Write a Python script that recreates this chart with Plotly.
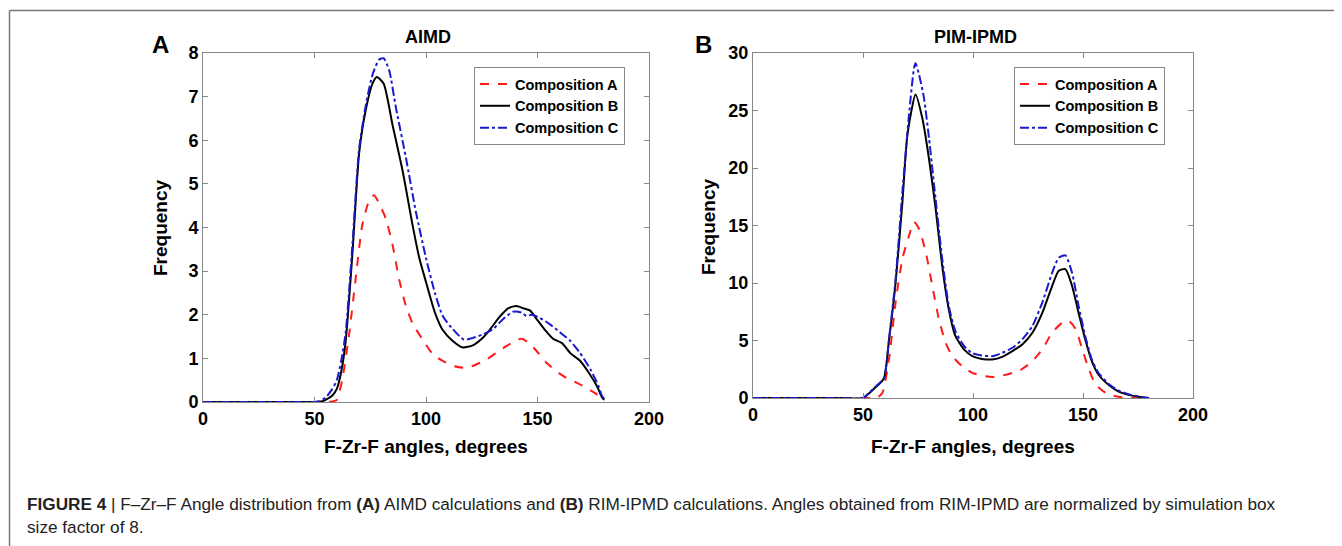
import plotly.graph_objects as go

# page body adds an 8px margin, so the figure is sized to fit the remaining window
OFF = 8
W, H = 1342 - OFF, 546 - OFF

# ---------------- Data ----------------
# Panel A: AIMD
aimd_a_x = [0, 20, 40, 55, 58, 60, 62.4, 65.4, 68.4, 71.4, 74.4, 76.7, 79, 82, 85, 88, 91, 94, 98.5,
            103, 107.5, 112.8, 118, 122.5, 127, 131.6, 136, 140.6, 142.9, 146, 149.6, 154,
            158.6, 163, 167.7, 172, 176.7, 179, 180]
aimd_a_y = [0, 0, 0, 0, 0.01, 0.05, 0.5, 1.5, 2.8, 4.05, 4.6, 4.74, 4.55, 4.2, 3.6, 2.8, 2.2, 1.8, 1.43,
            1.1, 0.94, 0.82, 0.78, 0.86, 0.97, 1.13, 1.28, 1.42, 1.45, 1.36, 1.17, 0.9,
            0.7, 0.55, 0.44, 0.32, 0.17, 0.05, 0.02]

aimd_b_x = [0, 20, 40, 50, 53, 55, 58, 60, 62, 64, 67, 70, 73, 76, 78, 81, 85, 89.5, 94, 97, 100,
            104, 107.5, 112, 116.5, 121, 125, 128.5, 133, 137, 140.6, 143.6, 146.6, 149.6,
            153.4, 157, 161, 164.7, 169, 173, 176.7, 179, 180]
aimd_b_y = [0, 0, 0, 0, 0.01, 0.05, 0.15, 0.3, 0.7, 1.4, 3.4, 5.7, 6.7, 7.3, 7.45, 7.3, 6.35, 5.3, 4.05, 3.3, 2.75,
            2.05, 1.65, 1.4, 1.25, 1.3, 1.45, 1.65, 1.95, 2.15, 2.2, 2.15, 2.1, 1.9,
            1.65, 1.45, 1.35, 1.12, 0.95, 0.67, 0.36, 0.1, 0.05]

aimd_c_x = [0, 20, 40, 50, 52, 55, 58, 60, 62, 64, 67, 70, 73, 76, 79, 81, 83.5, 86.5, 91, 95.5, 100,
            104, 107.5, 112, 117, 121, 125.5, 130, 134.6, 139, 142.9, 145, 147.4, 151,
            155.6, 160, 164.7, 169, 173.7, 177.4, 179, 180]
aimd_c_y = [0, 0, 0, 0, 0.02, 0.1, 0.3, 0.5, 0.95, 1.6, 3.6, 5.8, 6.8, 7.5, 7.85, 7.88, 7.6, 6.75, 5.6, 4.35, 3.3,
            2.5, 1.97, 1.67, 1.43, 1.47, 1.55, 1.67, 1.9, 2.07, 2.05, 1.97, 2.0, 1.93,
            1.78, 1.6, 1.4, 1.13, 0.75, 0.36, 0.13, 0.08]

# Panel B: PIM-IPMD
pim_a_x = [0, 20, 40, 55, 56.5, 58.8, 61.8, 64.8, 67.9, 70.9, 73.2, 75.5, 78.5, 81.5, 84.5, 87.6, 90.6,
           95, 99.7, 104, 108.8, 113.3, 117.9, 122.4, 127, 131.5, 136, 140.6, 143.6, 146.7,
           149.7, 152.7, 155.8, 160.3, 164.8, 169.4, 180]
pim_a_y = [0, 0, 0, 0, 0.05, 0.44, 3.35, 8.3, 12.1, 14.1, 15.3, 14.7, 12.7, 9.76, 6.85, 4.8, 3.64,
           2.77, 2.18, 1.95, 1.83, 1.95, 2.18, 2.53, 3.2, 4.22, 5.68, 6.55, 6.7, 5.97,
           4.22, 2.48, 1.17, 0.44, 0.15, 0.02, 0]

pim_b_x = [0, 20, 40, 50, 52.7, 55.8, 59.5, 61.8, 64.8, 67.9, 70.2, 73.9, 77, 80, 83, 86, 89, 92, 96,
           99.7, 104, 108.8, 113.3, 117.9, 122.4, 127, 131.5, 136, 139, 142, 145, 148, 151,
           154, 157, 162, 166, 171, 177.7, 180]
pim_b_y = [0, 0, 0, 0, 0.4, 0.95, 1.7, 5.0, 10.0, 17.0, 22.9, 26.4, 24.3, 20.8, 16.5, 11.5, 7.7, 5.4, 4.2,
           3.64, 3.4, 3.35, 3.58, 4.08, 4.66, 5.68, 7.4, 9.76, 11.07, 11.2, 9.76, 7.4, 5.1,
           3.2, 2.04, 1.08, 0.58, 0.25, 0.05, 0]

pim_c_x = [0, 20, 40, 50, 52.7, 55.8, 59.5, 61.8, 64.8, 67.9, 70.9, 73.2, 73.9, 75.5, 77.7, 80, 83, 86,
           89, 92, 96, 99.7, 104, 108.8, 113.3, 117.9, 122.4, 127, 131.5, 136, 139, 142, 145,
           148, 151, 154, 157, 162, 166, 171, 177.7, 180]
pim_c_y = [0, 0, 0, 0, 0.44, 1.0, 1.75, 5.1, 10.3, 17.9, 24.6, 28.7, 29.1, 28.1, 26.1, 22.6, 17.3, 12.1,
           8.0, 5.8, 4.5, 3.9, 3.7, 3.64, 3.93, 4.37, 5.1, 6.26, 8.3, 10.9, 12.2, 12.4, 10.9,
           8.0, 5.4, 3.35, 2.2, 1.17, 0.67, 0.3, 0.05, 0]

series_names = ["Composition A", "Composition B", "Composition C"]
x_ticks = [0, 50, 100, 150, 200]
y_ticks_a = [0, 1, 2, 3, 4, 5, 6, 7, 8]
y_ticks_b = [0, 5, 10, 15, 20, 25, 30]

# ---------------- Styles ----------------
colors = ["#ff1a1a", "#000000", "#1a1acc"]
dashes = ["dash", "solid", "dashdot"]
FONT = "Liberation Sans, Arial, sans-serif"

fig = go.Figure()

panel_a = [(aimd_a_x, aimd_a_y), (aimd_b_x, aimd_b_y), (aimd_c_x, aimd_c_y)]
panel_b = [(pim_a_x, pim_a_y), (pim_b_x, pim_b_y), (pim_c_x, pim_c_y)]

for i, (xs, ys) in enumerate(panel_a):
    fig.add_trace(go.Scatter(x=xs, y=ys, mode="lines", name=series_names[i],
                             line=dict(color=colors[i], dash=dashes[i], width=2, shape="spline", smoothing=0.6),
                             xaxis="x", yaxis="y", legend="legend"))
for i, (xs, ys) in enumerate(panel_b):
    fig.add_trace(go.Scatter(x=xs, y=ys, mode="lines", name=series_names[i],
                             line=dict(color=colors[i], dash=dashes[i], width=2, shape="spline", smoothing=0.6),
                             xaxis="x2", yaxis="y2", legend="legend2"))

# paper fractions from window pixel positions
def px_x(p):
    return (p - OFF) / W

def px_y(p):
    return 1 - (p - OFF) / H

ax_common = dict(showgrid=False, zeroline=False, showline=True, linecolor="#888888", linewidth=1,
                 mirror="ticks", ticks="inside", ticklen=5, tickcolor="#888888", automargin=False,
                 tickfont=dict(family=FONT, size=18, color="#000000", weight="bold"))

legend_common = dict(xanchor="left", yanchor="top", bgcolor="white", bordercolor="#888888", borderwidth=1,
                     font=dict(family=FONT, size=14.5, color="#000000", weight="bold"),
                     tracegroupgap=0, itemwidth=30)

fig.update_layout(
    width=W, height=H, autosize=False,
    margin=dict(l=0, r=0, t=0, b=0, pad=0, autoexpand=False),
    paper_bgcolor="white", plot_bgcolor="white",
    showlegend=True,
    xaxis=dict(domain=[px_x(203), px_x(649)], range=[0, 200], tickvals=x_ticks, anchor="y", **ax_common),
    yaxis=dict(domain=[px_y(402), px_y(53)], range=[0, 8], tickvals=y_ticks_a, anchor="x", **ax_common),
    xaxis2=dict(domain=[px_x(753), px_x(1193)], range=[0, 200], tickvals=x_ticks, anchor="y2", **ax_common),
    yaxis2=dict(domain=[px_y(398), px_y(53)], range=[0, 30], tickvals=y_ticks_b, anchor="x2", **ax_common),
    legend=dict(x=px_x(474), y=px_y(67), **legend_common),
    legend2=dict(x=px_x(1014), y=px_y(67), **legend_common),
)

bold = dict(family=FONT, color="#000000")
annotations = [
    dict(text="<b>A</b>", x=px_x(160), y=px_y(45), font=dict(size=24, **bold)),
    dict(text="<b>B</b>", x=px_x(703), y=px_y(45), font=dict(size=24, **bold)),
    dict(text="<b>AIMD</b>", x=px_x(428), y=px_y(37), font=dict(size=18, **bold)),
    dict(text="<b>PIM-IPMD</b>", x=px_x(975), y=px_y(37), font=dict(size=18, **bold)),
    dict(text="<b>F-Zr-F angles, degrees</b>", x=px_x(426), y=px_y(446), font=dict(size=19, **bold)),
    dict(text="<b>F-Zr-F angles, degrees</b>", x=px_x(973), y=px_y(446), font=dict(size=19, **bold)),
    dict(text="<b>Frequency</b>", x=px_x(160), y=px_y(228), textangle=-90, font=dict(size=19, **bold)),
    dict(text="<b>Frequency</b>", x=px_x(709), y=px_y(226), textangle=-90, font=dict(size=19, **bold)),
    dict(text="<b>FIGURE 4</b> | F–Zr–F Angle distribution from <b>(A)</b> AIMD calculations and <b>(B)</b> RIM-IPMD calculations. "
              "Angles obtained from RIM-IPMD are normalized by simulation box",
         x=px_x(25), y=px_y(504), xanchor="left", font=dict(size=17.2, family=FONT, color="#222222")),
    dict(text="size factor of 8.", x=px_x(25), y=px_y(527), xanchor="left",
         font=dict(size=17.2, family=FONT, color="#222222")),
]
for a in annotations:
    a.setdefault("xanchor", "center")
    a.update(xref="paper", yref="paper", yanchor="middle", showarrow=False)
fig.update_layout(annotations=annotations)

# outer frame lines
fig.add_shape(type="line", xref="paper", yref="paper", x0=px_x(9.5), x1=1, y0=px_y(10.5), y1=px_y(10.5),
              line=dict(color="#777777", width=1.5))
fig.add_shape(type="line", xref="paper", yref="paper", x0=px_x(9.5), x1=px_x(9.5), y0=px_y(10.5), y1=0,
              line=dict(color="#777777", width=1.5))

fig.write_html("out.html")
